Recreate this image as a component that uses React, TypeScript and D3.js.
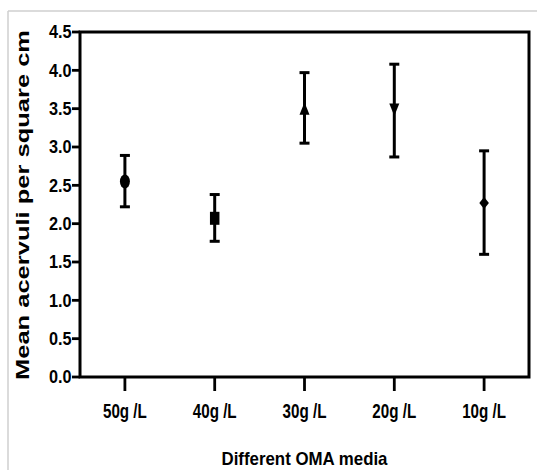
import React from "react";
import * as d3 from "d3";

const categories = ["50g /L", "40g /L", "30g /L", "20g /L", "10g /L"];
const means = [2.55, 2.07, 3.5, 3.49, 2.27];
const upper = [2.89, 2.38, 3.97, 4.08, 2.95];
const lower = [2.22, 1.77, 3.05, 2.87, 1.6];
const markers = ["circle", "square", "triangleUp", "triangleDown", "diamond"];
const yTicks = [0, 0.5, 1, 1.5, 2, 2.5, 3, 3.5, 4, 4.5];
const yTitle = "Mean acervuli per square cm";
const xTitle = "Different OMA media";

const W = 537;
const H = 470;
const left = 80;
const right = 529;
const top = 32;
const bottom = 377;

function Marker({ type, cx, cy }: { type: string; cx: number; cy: number }) {
  const w = 9.5;
  const h = 13;
  if (type === "circle") return <ellipse cx={cx} cy={cy} rx={5} ry={7} fill="#000" />;
  if (type === "square") return <rect x={cx - w / 2} y={cy - h / 2} width={w} height={h} fill="#000" />;
  let pts: [number, number][] = [];
  if (type === "triangleUp")
    pts = [[cx, cy - 6.5], [cx + 5, cy + 6], [cx - 5, cy + 6]];
  if (type === "triangleDown")
    pts = [[cx, cy + 6.5], [cx + 5, cy - 6], [cx - 5, cy - 6]];
  if (type === "diamond")
    pts = [[cx, cy - 6], [cx + 4.8, cy], [cx, cy + 6], [cx - 4.8, cy]];
  return <path d={d3.line()(pts) + "Z"} fill="#000" />;
}

export default function App() {
  const x = d3.scaleBand<string>().domain(categories).range([left, right]).padding(0);
  const y = d3.scaleLinear().domain([0, 4.5]).range([bottom, top]);
  const cx = (c: string) => (x(c) as number) + x.bandwidth() / 2;
  const font = "'Liberation Sans', Arial, sans-serif";

  return (
    <svg
      width={W}
      height={H}
      style={{ position: "absolute", left: 0, top: 0, background: "#fff" }}
      fontFamily={font}
    >
      <rect x={0} y={0} width={W} height={H} fill="#fff" />
      {/* faint outer border */}
      <line x1={8} y1={11} x2={W} y2={11} stroke="#cfcfcf" strokeWidth={1.5} />
      <line x1={8} y1={11} x2={8} y2={H} stroke="#cfcfcf" strokeWidth={1.5} />

      {/* y ticks */}
      {yTicks.map((t) => (
        <g key={t}>
          <line x1={72} x2={left} y1={y(t)} y2={y(t)} stroke="#000" strokeWidth={2.8} />
          <text
            transform={`translate(71.5,${y(t) + 6.3}) scale(0.88,1.04)`}
            textAnchor="end"
            fontSize={18.5}
            fontWeight="bold"
            fill="#000"
          >
            {d3.format(".1f")(t)}
          </text>
        </g>
      ))}

      {/* x ticks */}
      {categories.map((c) => (
        <g key={c}>
          <line x1={cx(c)} x2={cx(c)} y1={bottom} y2={391} stroke="#000" strokeWidth={2.8} />
          <text
            transform={`translate(${cx(c)},417.5) scale(0.76,1.05)`}
            textAnchor="middle"
            fontSize={20}
            fontWeight="bold"
            fill="#000"
          >
            {c}
          </text>
        </g>
      ))}

      {/* frame */}
      <rect
        x={left}
        y={top}
        width={right - left}
        height={bottom - top}
        fill="none"
        stroke="#000"
        strokeWidth={3}
      />

      {/* error bars and markers */}
      {categories.map((c, i) => {
        const px = cx(c);
        return (
          <g key={c}>
            <line x1={px} x2={px} y1={y(upper[i])} y2={y(lower[i])} stroke="#000" strokeWidth={3} />
            <line x1={px - 5} x2={px + 5} y1={y(upper[i])} y2={y(upper[i])} stroke="#000" strokeWidth={3} />
            <line x1={px - 5} x2={px + 5} y1={y(lower[i])} y2={y(lower[i])} stroke="#000" strokeWidth={3} />
            <Marker type={markers[i]} cx={px} cy={y(means[i])} />
          </g>
        );
      })}

      {/* axis titles */}
      <text
        transform="translate(28.5,205) rotate(-90)"
        textAnchor="middle"
        fontSize={18.5}
        fontWeight="bold"
        textLength={350}
        lengthAdjust="spacingAndGlyphs"
        fill="#000"
      >
        {yTitle}
      </text>
      <text
        x={(left + right) / 2}
        y={465}
        textAnchor="middle"
        fontSize={19}
        fontWeight="bold"
        textLength={166}
        lengthAdjust="spacingAndGlyphs"
        fill="#000"
      >
        {xTitle}
      </text>
    </svg>
  );
}
